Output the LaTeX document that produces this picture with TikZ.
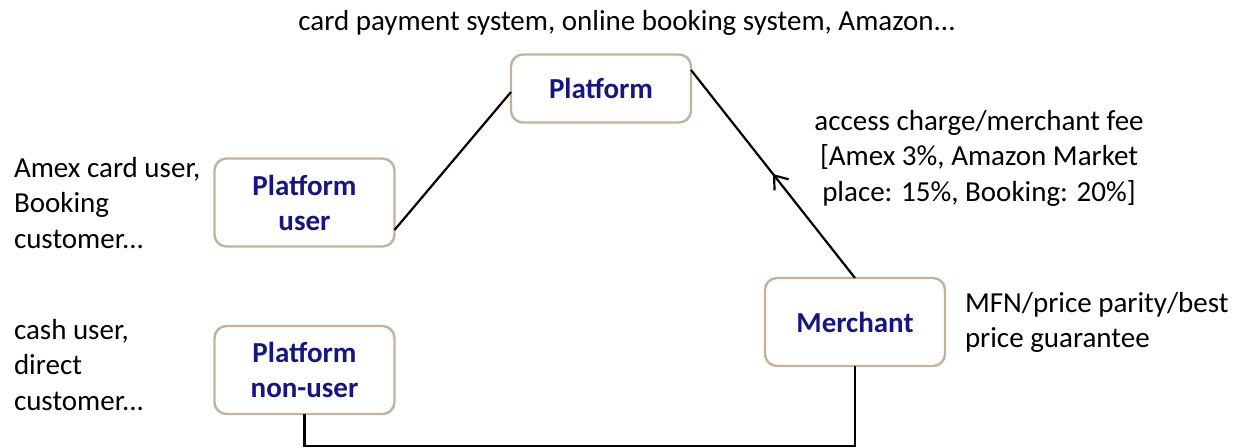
\documentclass[tikz,border=0pt]{standalone}
\usepackage{fontspec}
\setmainfont{Carlito}
\usetikzlibrary{decorations.markings,arrows.meta}
\definecolor{boxedge}{RGB}{196,178,152}
\definecolor{boxtext}{RGB}{22,22,130}
\begin{document}
\begin{tikzpicture}[x=0.5pt,y=-0.5pt,
  every node/.style={inner sep=0pt,outer sep=0pt},
  entity/.style={draw=boxedge,line width=1.2pt,rounded corners=6pt,fill=white,
    minimum width=90pt,minimum height=44pt,align=center,
    font=\fontsize{14.5}{17.5}\selectfont\bfseries,text=boxtext},
  wide/.style={minimum height=34pt},
  note/.style={font=\fontsize{14.5}{17.8}\selectfont,text=black},
  link/.style={line width=1.1pt,black},
  midarrow/.style={postaction={decorate},decoration={markings,
    mark=at position 0.5 with {\arrow[line width=1.1pt]{Straight Barb[length=6pt,width=9pt]}}}}]
\useasboundingbox (0,0) rectangle (1243,448);
\node[entity,wide] (pl) at (601,88.5) {Platform};
\node[entity] (pu) at (304.5,202.5) {Platform\\user};
\node[entity] (pn) at (304.5,370) {Platform\\non-user};
\node[entity] (me) at (855,322) {Merchant};
\node[note,anchor=base] (t1) at (627,31) {card payment system, online booking system, Amazon...};
\node[note,anchor=north west,align=left] (t2) at (14,157) {Amex card user,\\Booking\\customer...};
\node[note,anchor=north west,align=left] (t3) at (14,319) {cash user,\\direct\\customer...};
\node[note,anchor=north,align=center] (t4) at (979,110) {access charge/merchant fee\\{}[Amex 3\%, Amazon Market\\place: 15\%, Booking: 20\%]};
\node[note,anchor=north west,align=left] (t5) at (965,292) {MFN/price parity/best\\price guarantee};
\draw[link] ([yshift=-13.75pt]pu.east) -- ([yshift=-1.75pt]pl.west);
\draw[link,midarrow] (me.north) -- ([yshift=9.25pt]pl.east);
\draw[link] (pn.south) |- (304.5,446) -| (me.south);
\end{tikzpicture}
\end{document}
